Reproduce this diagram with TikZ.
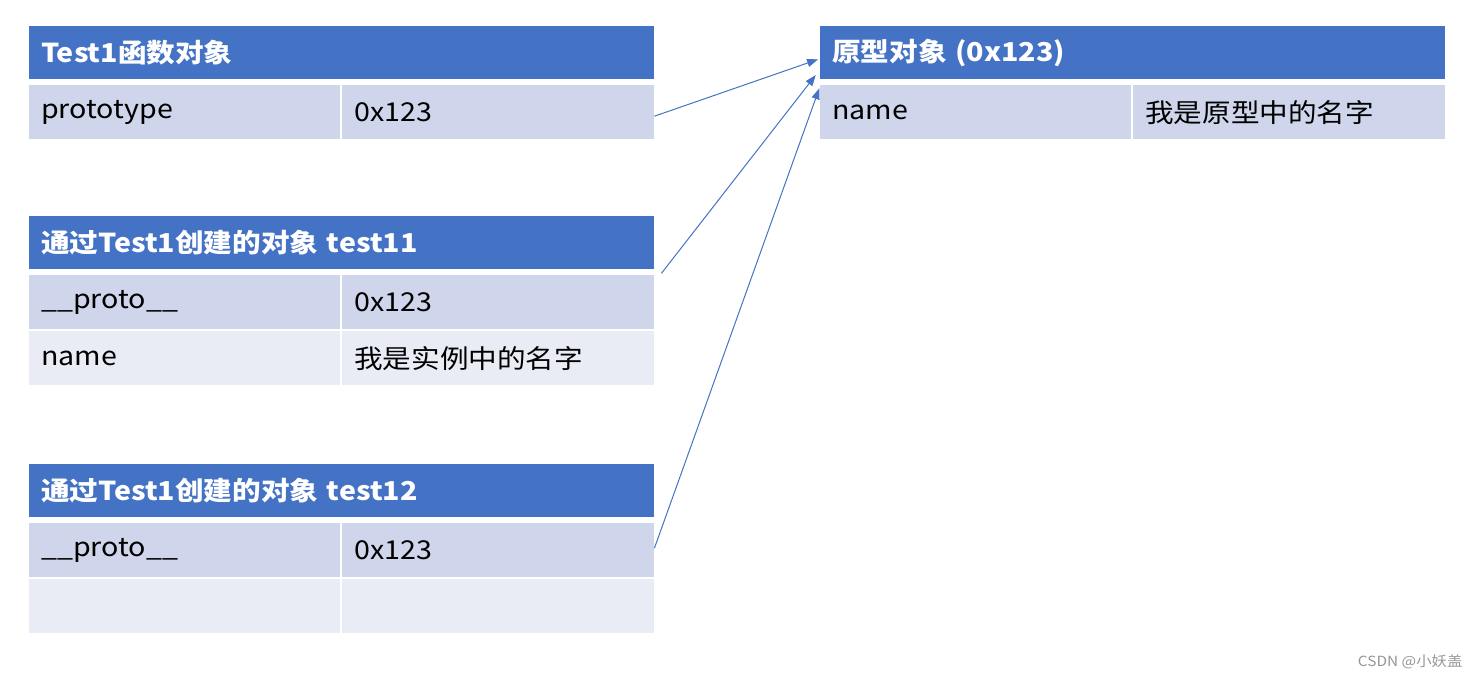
\documentclass[tikz,border=0pt]{standalone}
\usepackage{fontspec}
\setmainfont{Noto Sans CJK SC}[FakeStretch=1.1]
\usetikzlibrary{arrows.meta}
\definecolor{HeadBlue}{RGB}{68,114,196}
\definecolor{RowDark}{RGB}{207,213,234}
\definecolor{RowLight}{RGB}{233,235,245}
\definecolor{MarkGray}{RGB}{150,150,150}

\tikzset{
  cell/.style={anchor=north west, inner xsep=12pt, inner ysep=0pt, align=left, minimum height=54pt, font=\fontsize{26}{30}\selectfont},
  hdr/.style={cell, text width=601pt, minimum height=53pt, fill=HeadBlue, text=white, font=\bfseries\fontsize{26}{30}\selectfont},
  keycell/.style={cell, text width=287pt, fill=#1},
  keycell/.default=RowDark,
  valcell/.style={cell, text width=288pt, fill=#1},
  valcell/.default=RowDark,
  link/.style={draw=HeadBlue, line width=1pt, -{Triangle[length=11pt,width=8pt]}, shorten >=2pt}
}

\begin{document}
\begin{tikzpicture}[x=1pt, y=-1pt]
\pgfmathsetmacro{\xs}{29} % left tables, first column
\pgfmathsetmacro{\xm}{342} % left tables, second column
\pgfmathsetmacro{\xp}{820} % prototype table, first column
\pgfmathsetmacro{\xq}{1133} % prototype table, second column

\useasboundingbox (0,0) rectangle (1480,679);

% Test1 function object
\node[hdr] (fnHead) at (\xs,26) {Test1函数对象};
\node[keycell] (fnKey) at (\xs,85) {prototype};
\node[valcell] (fnVal) at (\xm,85) {0x123};

% instance test11
\node[hdr] (aHead) at (\xs,216) {通过Test1创建的对象 test11};
\node[keycell] (aKey) at (\xs,275) {\_\_proto\_\_};
\node[valcell] (aVal) at (\xm,275) {0x123};
\node[keycell=RowLight] (aKey2) at (\xs,331) {name};
\node[valcell=RowLight] (aVal2) at (\xm,331) {我是实例中的名字};

% instance test12
\node[hdr] (bHead) at (\xs,464) {通过Test1创建的对象 test12};
\node[keycell] (bKey) at (\xs,523) {\_\_proto\_\_};
\node[valcell] (bVal) at (\xm,523) {0x123};
\node[keycell=RowLight] (bKey2) at (\xs,579) {};
\node[valcell=RowLight] (bVal2) at (\xm,579) {};

% prototype object
\node[hdr] (protoHead) at (\xp,26) {原型对象 (0x123)};
\node[keycell] (protoKey) at (\xp,85) {name};
\node[valcell] (protoVal) at (\xq,85) {我是原型中的名字};

\draw[link] ([yshift=-4pt]fnVal.east) -- ([yshift=-6pt]protoHead.west);
\draw[link] ([xshift=7pt,yshift=-4pt]aHead.south east) -- ([xshift=-3pt,yshift=6pt]protoHead.south west);
\draw[link] ([yshift=2pt]bVal.east) -- ([yshift=-7pt]protoHead.south west);

\node[anchor=east, text=MarkGray, font=\fontsize{14}{16}\selectfont] (mark) at (1466,662) {CSDN @小妖盖};
\end{tikzpicture}
\end{document}
